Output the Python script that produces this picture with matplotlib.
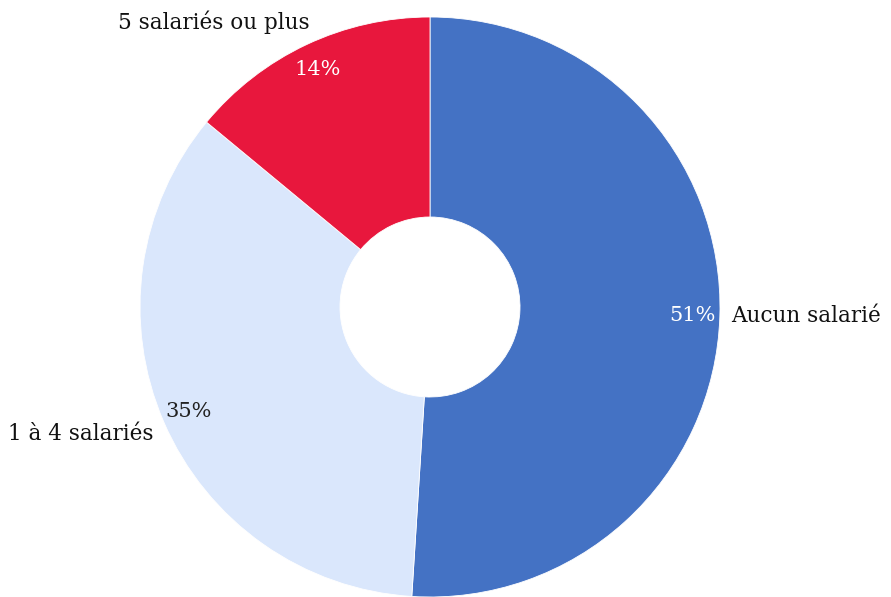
import matplotlib.pyplot as plt
import numpy as np

plt.rcParams['font.family'] = ['DejaVu Serif']

# === données ===
categories = ['Aucun salarié', '1 à 4 salariés', '5 salariés ou plus']
values = [51, 35, 14]
pct_labels = ['51%', '35%', '14%']
colors = ['#4472C4', '#DAE7FC', '#E8173D']
pct_colors = ['white', '#222222', 'white']

fig = plt.figure(figsize=(8.91, 5.97), dpi=100)
ax = fig.add_axes([0, 0, 1, 1])

wedges, texts = ax.pie(
    values,
    labels=categories,
    colors=colors,
    startangle=90,
    counterclock=False,
    center=(430, 290),
    radius=290,
    labeldistance=1.04,
    wedgeprops=dict(width=200, edgecolor='white', linewidth=0.6),
    textprops=dict(fontsize=15.5, color='#111111'),
    frame=True,
)
ax.set_xlim(0, 891)
ax.set_ylim(0, 597)
ax.set_aspect('equal')
ax.axis('off')

# pourcentages à l'intérieur, près du bord
for w, lab, c in zip(wedges, pct_labels, pct_colors):
    ang = np.deg2rad((w.theta1 + w.theta2) / 2)
    x = 430 + 263 * np.cos(ang)
    y = 290 + 263 * np.sin(ang)
    ax.text(x, y, lab, ha='center', va='center', fontsize=15, color=c)

# alignement des étiquettes à gauche du centre
texts[0].set_ha('left')
for t, dx, dy in [(texts[1], 0, -7), (texts[2], 8, 12)]:
    t.set_ha('right')
    px, py = t.get_position()
    t.set_position((px + dx, py + dy))

plt.savefig('out.png', dpi=100)
